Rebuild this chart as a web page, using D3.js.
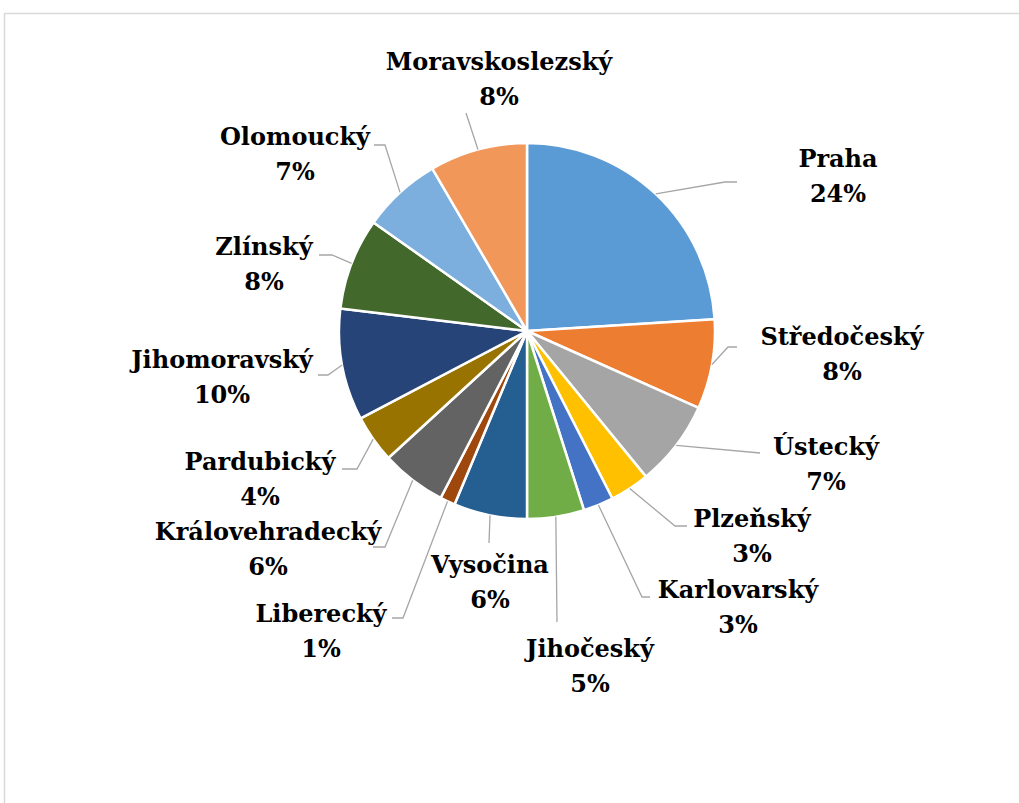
<!DOCTYPE html>
<html>
<head>
<meta charset="utf-8">
<script src="https://cdn.jsdelivr.net/npm/d3@7"></script>
<style>
  body { margin: 0; background: #fff; }
  .lbl { font-family: "DejaVu Serif", serif; font-weight: bold; font-size: 24px; fill: #000; }
</style>
</head>
<body>
<div class="chart"></div>
<script>
// data (share in %)
var regions = ["Praha", "Středočeský", "Ústecký", "Plzeňský", "Karlovarský", "Jihočeský", "Vysočina",
  "Liberecký", "Královehradecký", "Pardubický", "Jihomoravský", "Zlínský", "Olomoucký", "Moravskoslezský"];
var shares = [24.0, 7.7, 7.4, 3.4, 2.6, 4.9, 6.3, 1.3, 5.6, 4.1, 9.6, 7.9, 6.8, 8.4];
var colors = ["#5B9BD5", "#ED7D31", "#A5A5A5", "#FFC000", "#4472C4", "#70AD47", "#255E91",
  "#9E480E", "#636363", "#997300", "#264478", "#43682B", "#7CAFDD", "#F1975A"];

// label placement (text centre x, first baseline y, leader points after the arc anchor)
var labelLayout = [
  {tx: 838, ty: 167, pts: [[725, 182], [737, 182]]},
  {tx: 842, ty: 345, pts: [[728, 347], [737, 347]]},
  {tx: 826, ty: 455, pts: [[760, 453]]},
  {tx: 752, ty: 527, pts: [[675, 526], [687, 526]]},
  {tx: 738, ty: 598, pts: [[642, 597], [650, 597]]},
  {tx: 590, ty: 657, pts: [[557, 622]]},
  {tx: 490, ty: 573, pts: [[489, 543]]},
  {tx: 321, ty: 622, pts: [[403, 618], [392, 618]]},
  {tx: 268, ty: 540, pts: [[385, 547], [373, 547]]},
  {tx: 260, ty: 470, pts: [[357, 469], [342, 469]]},
  {tx: 222, ty: 368, pts: [[328, 375], [318, 375]]},
  {tx: 264, ty: 255, pts: [[332, 255], [319, 255]]},
  {tx: 295, ty: 145, pts: [[385, 145], [374, 145]]},
  {tx: 499, ty: 70, pts: [[466, 113]]}
];

var svgWidth = 1019;
var svgHeight = 803;
var cx = 527, cy = 331, radius = 188;

var svg = d3.select(".chart")
  .append("svg")
  .attr("width", svgWidth)
  .attr("height", svgHeight);

// chart area border
svg.append("rect")
  .attr("x", 4.5)
  .attr("y", 13.5)
  .attr("width", 1100)
  .attr("height", 900)
  .attr("fill", "none")
  .attr("stroke", "#d9d9d9")
  .attr("stroke-width", 1.5);

var total = d3.sum(shares);
var pct = d3.format(".0%");

var pie = d3.pie().sort(null).value(d => d);
var arcs = pie(shares);

var arc = d3.arc().innerRadius(0).outerRadius(radius);
var edge = d3.arc().innerRadius(radius).outerRadius(radius);

var pieGroup = svg.append("g")
  .attr("transform", `translate(${cx}, ${cy})`);

pieGroup.selectAll("path")
  .data(arcs)
  .enter()
  .append("path")
  .attr("d", arc)
  .attr("fill", (d, i) => colors[i])
  .attr("stroke", "#fff")
  .attr("stroke-width", 2.5)
  .attr("stroke-linejoin", "round");

// leader lines from the slice edge to the label
var line = d3.line();
svg.selectAll("path.leader")
  .data(arcs)
  .enter()
  .append("path")
  .attr("class", "leader")
  .attr("d", (d, i) => {
    var c = edge.centroid(d);
    return line([[c[0] + cx, c[1] + cy]].concat(labelLayout[i].pts));
  })
  .attr("fill", "none")
  .attr("stroke", "#a6a6a6")
  .attr("stroke-width", 1.3);

var labels = svg.selectAll("text.lbl")
  .data(arcs)
  .enter()
  .append("text")
  .attr("class", "lbl")
  .attr("text-anchor", "middle")
  .attr("x", (d, i) => labelLayout[i].tx)
  .attr("y", (d, i) => labelLayout[i].ty);

labels.append("tspan")
  .attr("x", (d, i) => labelLayout[i].tx)
  .text((d, i) => regions[i]);

labels.append("tspan")
  .attr("x", (d, i) => labelLayout[i].tx)
  .attr("dy", 35)
  .text(d => pct(d.value / total));
</script>
</body>
</html>
